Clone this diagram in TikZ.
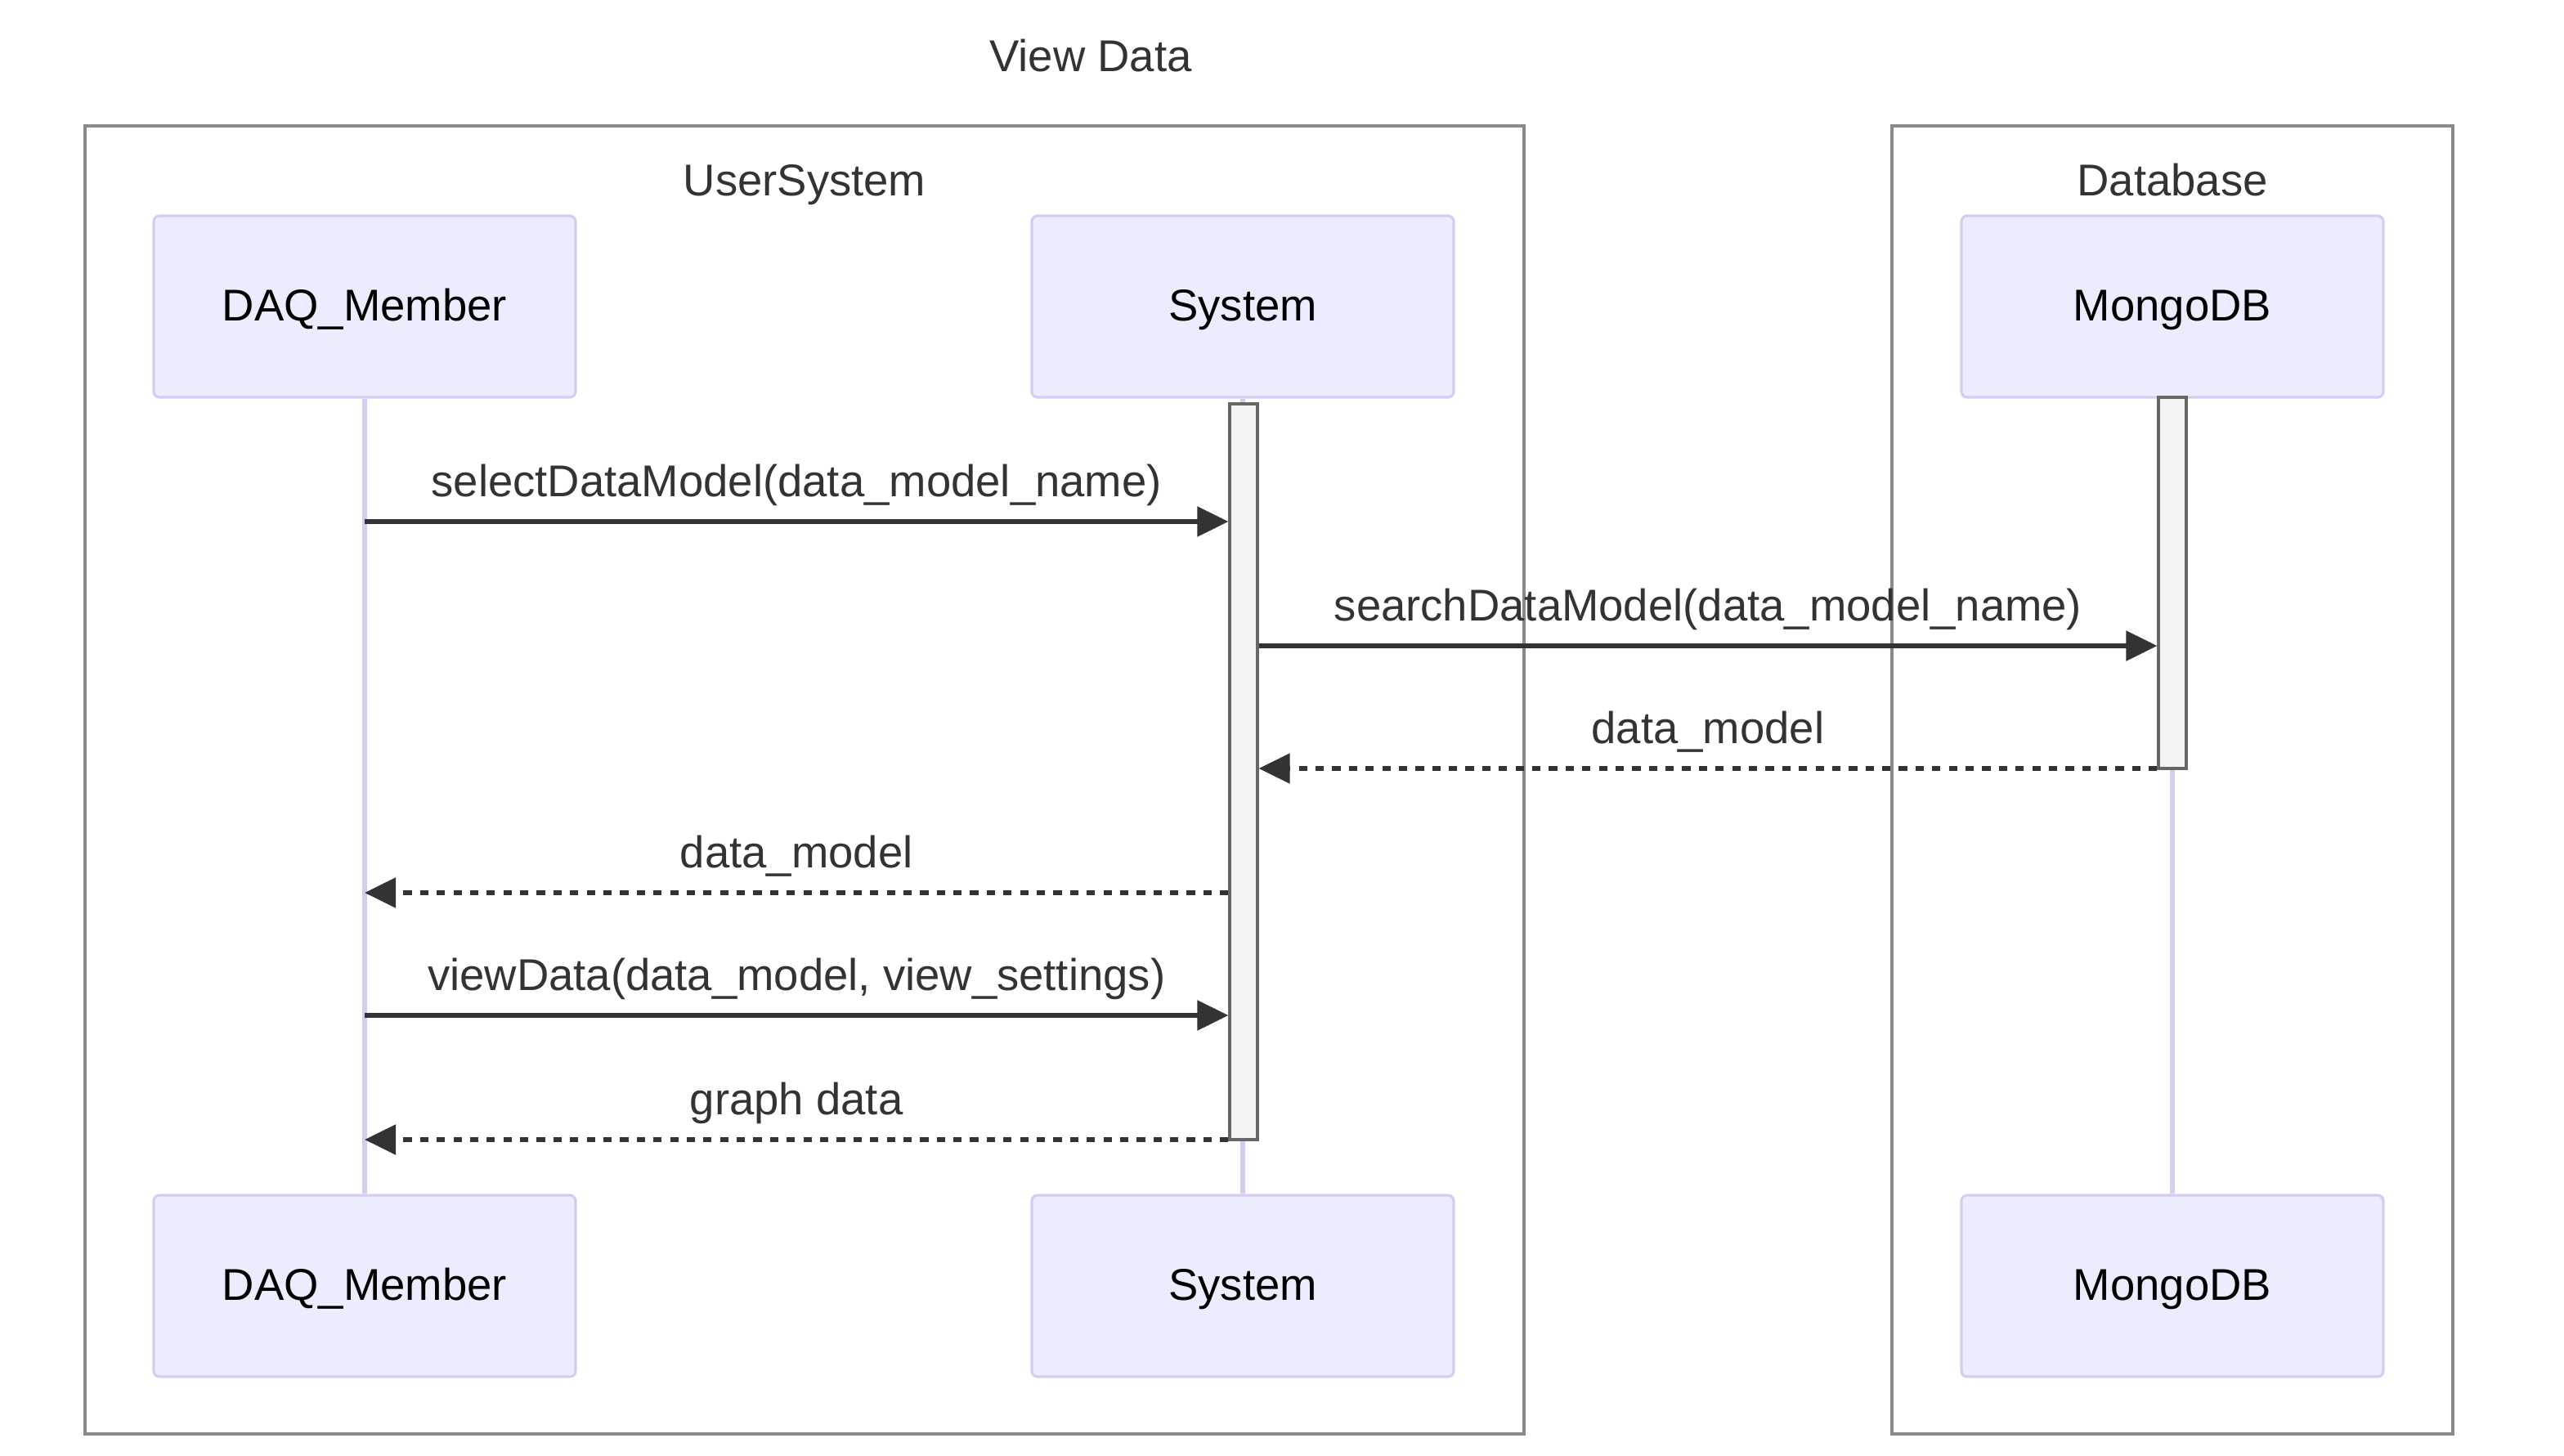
\documentclass[tikz,border=0pt]{standalone}
\usepackage{fontspec}
\setmainfont{Liberation Sans}
\usetikzlibrary{arrows.meta}
\definecolor{actfill}{HTML}{ECECFF}
\definecolor{actline}{HTML}{D6CCF2}
\definecolor{txtdark}{HTML}{333333}
\definecolor{grpline}{HTML}{8A8A8A}
\definecolor{barfill}{HTML}{F4F4F4}
\definecolor{barline}{HTML}{666666}
\tikzset{>={Triangle[length=0.38cm,width=0.36cm]}}
\tikzset{
    actor/.style = {draw=actline, fill=actfill, rectangle,
        rounded corners=2pt, line width=0.9pt,
        minimum height=2.22cm,
        minimum width=5.16cm,
        text height=1.02em, text depth=0em},
    group/.style = {draw=grpline, line width=1pt},
    title/.style = {text=txtdark, anchor=base},
    lifeline/.style = {draw=actline, line width=1.9pt},
    bar/.style = {draw=barline, fill=barfill, rectangle, line width=0.9pt,
        inner sep=0pt, minimum width=0.34cm},
    msg/.style = {draw=txtdark, ->, line width=1.5pt},
    reply/.style = {msg, dash pattern=on 2.9pt off 2.9pt},
    lbl/.style = {text=txtdark, anchor=base, midway, yshift=0.31cm}
}

\begin{document}
\begin{tikzpicture}[x=0.2mm, y=-0.2mm, node distance=11.98cm,
    font=\fontsize{15.5}{18}\selectfont]
    \useasboundingbox (0,0) rectangle (1568,890);
    \node [title] (heading) at (667,43.5) {View Data};

    % groups
    \draw [group] (52,77) rectangle (932,877);
    \draw [group] (1157,77) rectangle (1500,877);
    \node [title] (userSys) at (492,119.5) {UserSystem};
    \node [title] (dataBase) at (1328.5,119.5) {Database};

    % participants
    \node [actor] (daqTop) at (223,187.5) {DAQ\_Member};
    \node [actor] (sysTop) at (760,187.5) {System};
    \node [actor] (monTop) at (1328.5,187.5) {MongoDB};
    \node [actor, below of=daqTop] (daqBot) {DAQ\_Member};
    \node [actor, below of=sysTop] (sysBot) {System};
    \node [actor, below of=monTop] (monBot) {MongoDB};

    \draw [lifeline] (daqTop) -- (daqBot);
    \draw [lifeline] (sysTop) -- (sysBot);
    \draw [lifeline] (monTop) -- (monBot);

    % activations
    \node [bar, minimum height=9cm] (sysBar) at (760.5,472) {};
    \node [bar, minimum height=4.54cm] (monBar) at (1328.5,356.5) {};

    % message rows
    \coordinate (r1) at (0,319);
    \coordinate (r2) at (0,395);
    \coordinate (r3) at (0,470);
    \coordinate (r4) at (0,546);
    \coordinate (r5) at (0,621);
    \coordinate (r6) at (0,697);

    \draw [msg] (daqTop |- r1) -- node [lbl] {selectDataModel(data\_model\_name)} (sysBar.west |- r1);
    \draw [msg] (sysBar.east |- r2) -- node [lbl] {searchDataModel(data\_model\_name)} (monBar.west |- r2);
    \draw [reply] (monBar.west |- r3) -- node [lbl] {data\_model} (sysBar.east |- r3);
    \draw [reply] (sysBar.west |- r4) -- node [lbl] {data\_model} (daqTop |- r4);
    \draw [msg] (daqTop |- r5) -- node [lbl] {viewData(data\_model, view\_settings)} (sysBar.west |- r5);
    \draw [reply] (sysBar.west |- r6) -- node [lbl] {graph data} (daqTop |- r6);
\end{tikzpicture}
\end{document}
